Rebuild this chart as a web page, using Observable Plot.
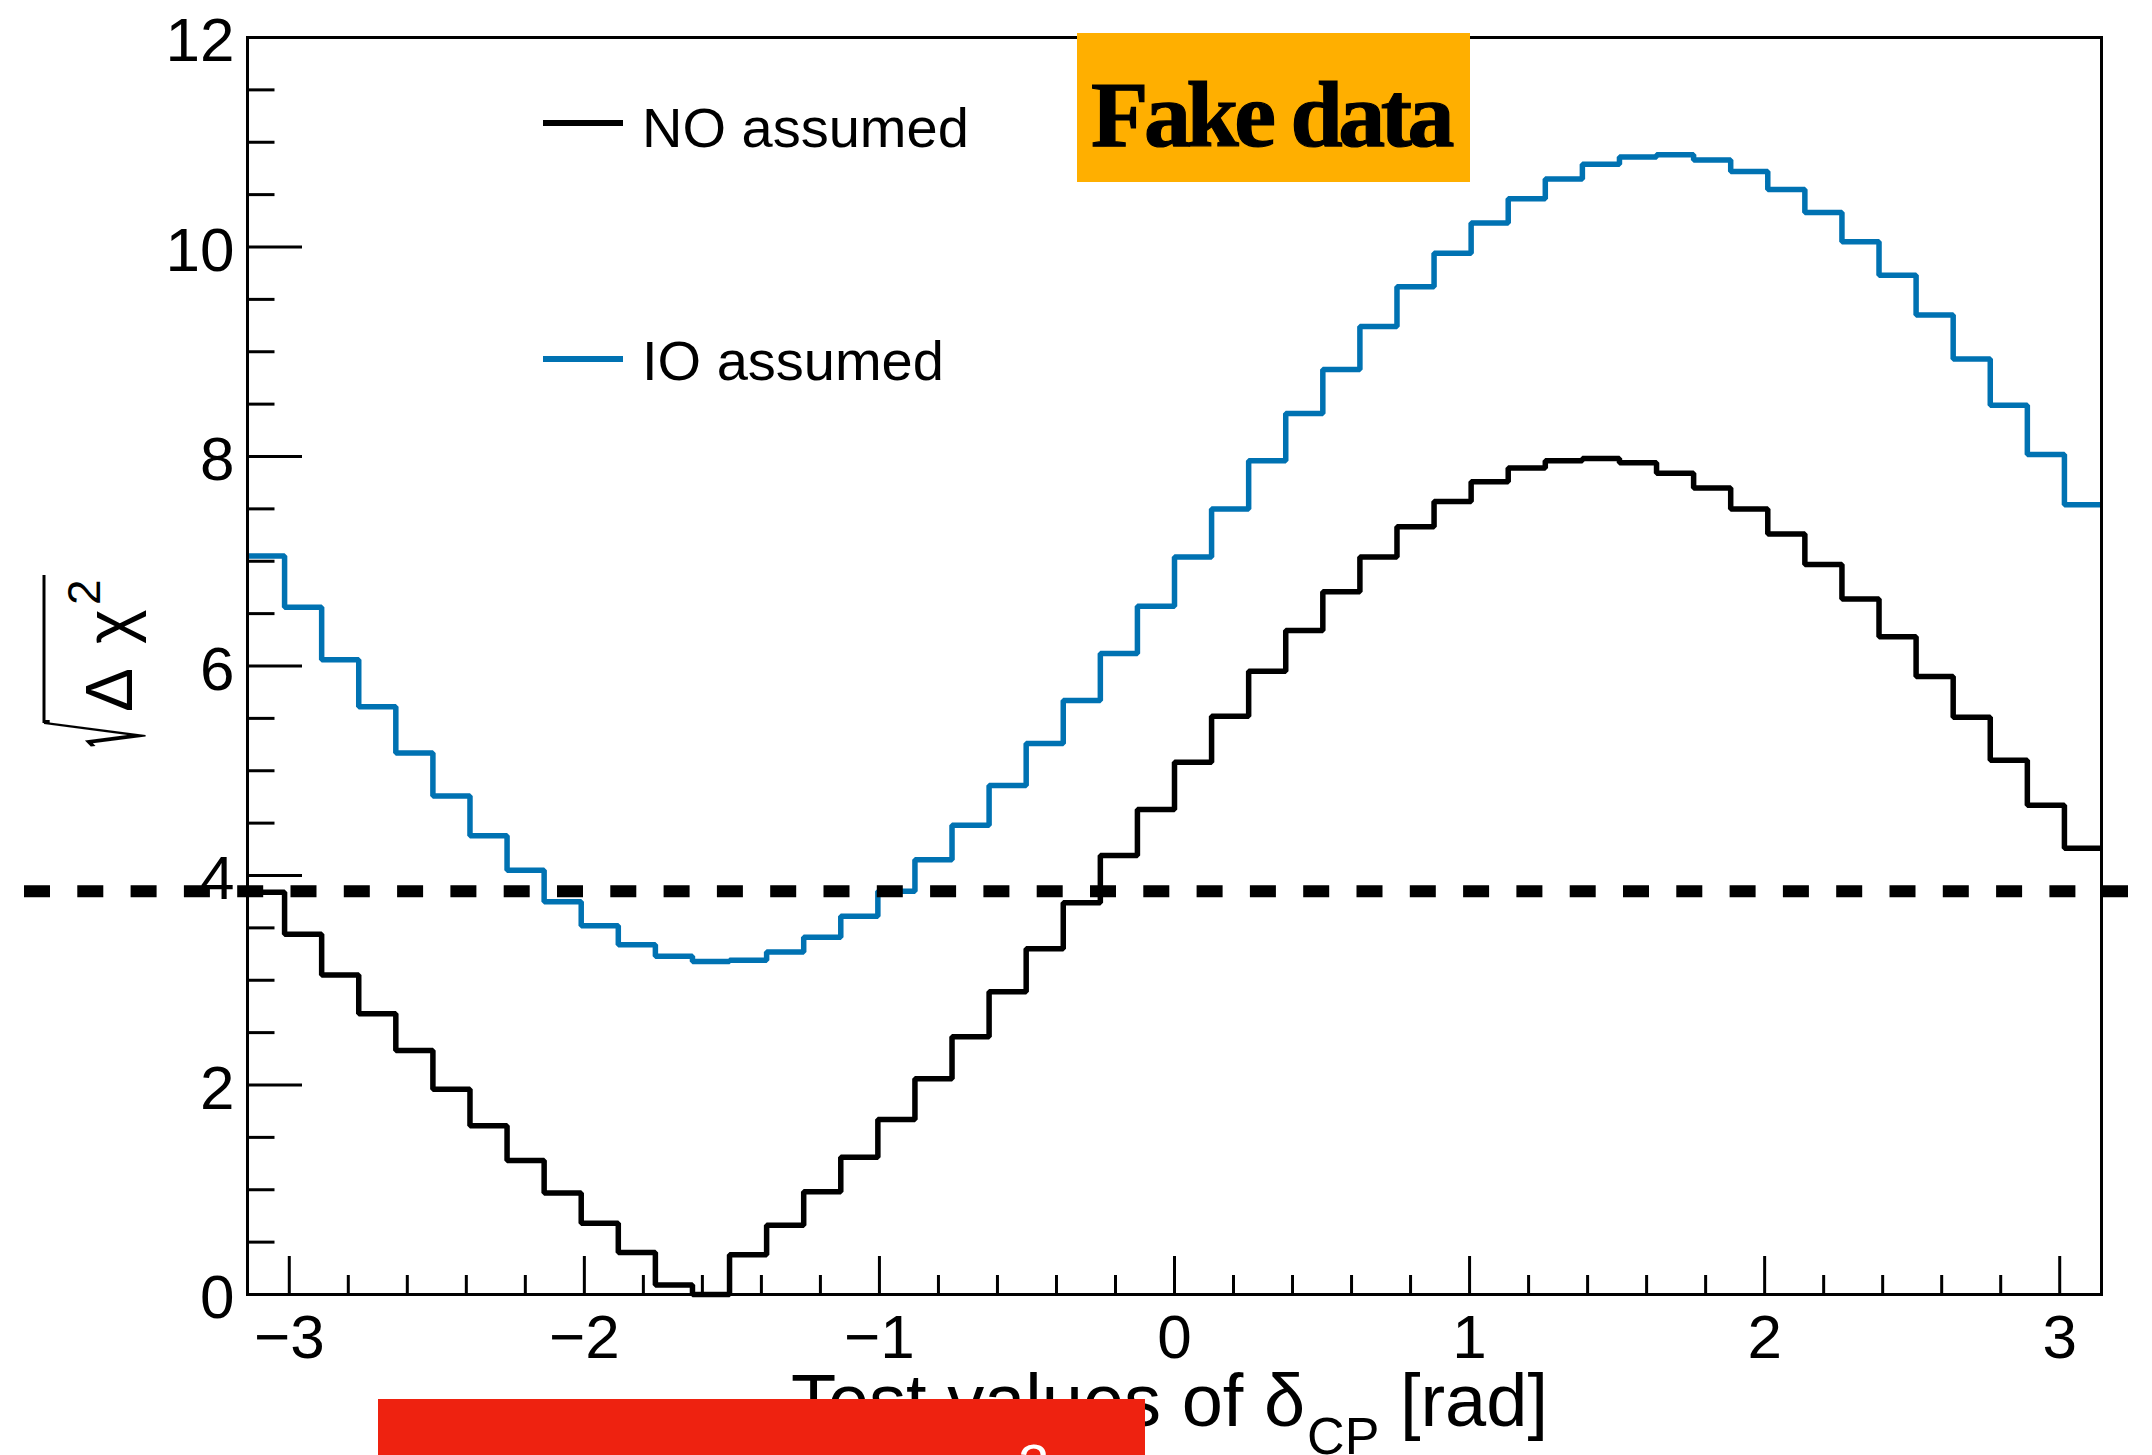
<!DOCTYPE html>
<html>
<head>
<meta charset="utf-8">
<script src="https://cdn.jsdelivr.net/npm/d3@7"></script>
<script src="https://cdn.jsdelivr.net/npm/@observablehq/plot@0.6"></script>
<style>
  html, body { margin: 0; padding: 0; background: #fff; }
  #wrap { position: relative; width: 2152px; height: 1455px; overflow: hidden; font-family: "Liberation Sans", Arial, sans-serif; color: #000; }
  #chart { position: absolute; left: 0; top: 0; }
  .legline { position: absolute; height: 6px; width: 80px; left: 543px; }
  .legtext { position: absolute; left: 642px; font-size: 56px; line-height: 56px; white-space: nowrap; }
  #xtitle { position: absolute; right: 604px; top: 1364px; font-size: 74px; line-height: 74px; white-space: nowrap; }
  #xtitle .sub { font-size: 52px; line-height: 0; position: relative; top: 28px; margin-left: 2px; }
  #fake { position: absolute; left: 1077px; top: 33px; width: 393px; height: 149px; background: #FFAF00; }
  #fake span { position: absolute; left: 14px; top: 34px; font-family: "Liberation Serif", "DejaVu Serif", serif; font-weight: bold; font-size: 94px; line-height: 94px; letter-spacing: -4.5px; white-space: nowrap; color: #000; -webkit-text-stroke: 1.2px #000; }
  #redbox { position: absolute; left: 378px; top: 1399px; width: 767px; height: 70px; background: #EE2210; overflow: hidden; }
  #redbox span { position: absolute; left: 640px; top: 37px; font-size: 56px; line-height: 56px; color: #fff; }
  #ytl { position: absolute; left: 0; top: 540px; overflow: visible; }
</style>
</head>
<body>
<div id="wrap">
  <div id="chart"></div>
  <div class="legline" style="top:120px; background:#000;"></div>
  <div class="legtext" id="legNO" style="top:100px;"></div>
  <div class="legline" style="top:356px; background:#0072B2;"></div>
  <div class="legtext" id="legIO" style="top:333px;"></div>
  <div id="fake"><span id="fakeText"></span></div>
  <div id="xtitle">Test values of δ<span class="sub">CP</span> [rad]</div>
  <div id="redbox"><span>2</span></div>
  <svg id="ytl" width="200" height="300">
    <g transform="translate(132,217) rotate(-90)">
      <text id="radical" font-family="DejaVu Sans" font-size="100">√</text>
      <line x1="34" x2="182" y1="-88" y2="-88" stroke="#000" stroke-width="3"></line>
      <text x="45" y="0" font-family="Liberation Sans" font-size="66">Δ<tspan x="113">χ</tspan><tspan x="152" dy="-32" font-size="46">2</tspan></text>
    </g>
  </svg>
</div>
<script>
// ---- data ----
const binCount = 50;                       // histogram bins across the delta_CP range
const xDomain = [-Math.PI, Math.PI];
const yDomain = [0, 12];
const seriesNames = ["NO assumed", "IO assumed"];
const seriesColors = ["#000000", "#0072B2"];

const noAssumed = [
  3.84, 3.44, 3.05, 2.68, 2.33, 1.96, 1.61, 1.28, 0.97, 0.68,
  0.40, 0.09, 0.00, 0.38, 0.66, 0.98, 1.31, 1.67, 2.06, 2.46,
  2.89, 3.30, 3.74, 4.19, 4.63, 5.08, 5.52, 5.95, 6.34, 6.71,
  7.04, 7.33, 7.57, 7.76, 7.89, 7.96, 7.98, 7.94, 7.84, 7.70,
  7.50, 7.26, 6.97, 6.64, 6.28, 5.90, 5.51, 5.10, 4.67, 4.26
];
const ioAssumed = [
  7.05, 6.56, 6.06, 5.61, 5.17, 4.76, 4.38, 4.05, 3.75, 3.52,
  3.34, 3.23, 3.18, 3.19, 3.27, 3.41, 3.61, 3.85, 4.15, 4.48,
  4.86, 5.26, 5.67, 6.12, 6.57, 7.04, 7.50, 7.96, 8.41, 8.83,
  9.24, 9.62, 9.94, 10.23, 10.46, 10.65, 10.79, 10.86, 10.88, 10.83,
  10.72, 10.55, 10.33, 10.05, 9.73, 9.35, 8.93, 8.49, 8.02, 7.54
];
const threshold = 3.85;

const xMajorTicks = [-3, -2, -1, 0, 1, 2, 3];
const xMinorTicks = [-2.8, -2.6, -2.4, -2.2, -1.8, -1.6, -1.4, -1.2, -0.8, -0.6, -0.4, -0.2,
                     0.2, 0.4, 0.6, 0.8, 1.2, 1.4, 1.6, 1.8, 2.2, 2.4, 2.6, 2.8];
const yMajorTicks = [0, 2, 4, 6, 8, 10, 12];
const yMinorTicks = [0.5, 1, 1.5, 2.5, 3, 3.5, 4.5, 5, 5.5, 6.5, 7, 7.5, 8.5, 9, 9.5, 10.5, 11, 11.5];

const fakeLabel = "Fake data";

// ---- layout ----
const W = 2152, H = 1455;
const mL = 247, mR = 51, mT = 37, mB = 161;
const plotW = W - mL - mR, plotH = H - mT - mB;

// histogram outline: left bin edges + closing right edge
function stepPoints(vals) {
  const w = (xDomain[1] - xDomain[0]) / binCount;
  const pts = vals.map((v, i) => ({x: xDomain[0] + i * w, y: v}));
  pts.push({x: xDomain[1], y: vals[vals.length - 1]});
  return pts;
}
const fmt = d => (d < 0 ? "\u2212" + Math.abs(d) : String(d));

const chart = Plot.plot({
  width: W, height: H,
  marginLeft: mL, marginRight: mR, marginTop: mT, marginBottom: mB,
  style: {background: "#fff", color: "#000", fontFamily: "'Liberation Sans', Arial, sans-serif"},
  x: {domain: xDomain},
  y: {domain: yDomain},
  marks: [
    Plot.ruleY(yMajorTicks, {insetRight: plotW - 55, stroke: "#000", strokeWidth: 3}),
    Plot.ruleY(yMinorTicks, {insetRight: plotW - 27.5, stroke: "#000", strokeWidth: 3}),
    Plot.ruleX(xMajorTicks, {insetTop: plotH - 38, stroke: "#000", strokeWidth: 3}),
    Plot.ruleX(xMinorTicks, {insetTop: plotH - 19, stroke: "#000", strokeWidth: 3}),
    Plot.axisY({ticks: yMajorTicks, tickSize: 0, tickPadding: 13, fontSize: 62, dy: 4, label: null, tickFormat: fmt}),
    Plot.axisX({ticks: xMajorTicks, tickSize: 0, tickPadding: 19, fontSize: 62, label: null, tickFormat: fmt}),
    Plot.line(stepPoints(ioAssumed), {x: "x", y: "y", curve: "step-after", stroke: seriesColors[1], strokeWidth: 5.5, strokeLinejoin: "miter", strokeLinecap: "butt"}),
    Plot.line(stepPoints(noAssumed), {x: "x", y: "y", curve: "step-after", stroke: seriesColors[0], strokeWidth: 5.5, strokeLinejoin: "miter", strokeLinecap: "butt"}),
    Plot.frame({stroke: "#000", strokeWidth: 3}),
    Plot.ruleY([threshold], {stroke: "#000", strokeWidth: 12, strokeDasharray: "26,27.3", insetLeft: -(mL - 24), insetRight: -(2128 - (W - mR))})
  ]
});
document.getElementById("chart").appendChild(chart);
document.getElementById("legNO").textContent = seriesNames[0];
document.getElementById("legIO").textContent = seriesNames[1];
document.getElementById("fakeText").textContent = fakeLabel;

// fit the radical sign glyph (ink box) into its slot of the rotated y title
(function fitRadical() {
  const ctx = document.createElement("canvas").getContext("2d");
  ctx.font = "100px 'DejaVu Sans'";
  const m = ctx.measureText("\u221A");
  const L = m.actualBoundingBoxLeft, R = m.actualBoundingBoxRight;
  const A = m.actualBoundingBoxAscent, D = m.actualBoundingBoxDescent;
  const x0 = 10, x1 = 37, y0 = -89, y1 = 15;   // target ink box (rotated local coords)
  const sx = (x1 - x0) / (R + L), sy = (y1 - y0) / (A + D);
  const tx = x0 + L * sx, ty = y0 + A * sy;
  document.getElementById("radical").setAttribute("transform", `translate(${tx},${ty}) scale(${sx},${sy})`);
})();
</script>
</body>
</html>
